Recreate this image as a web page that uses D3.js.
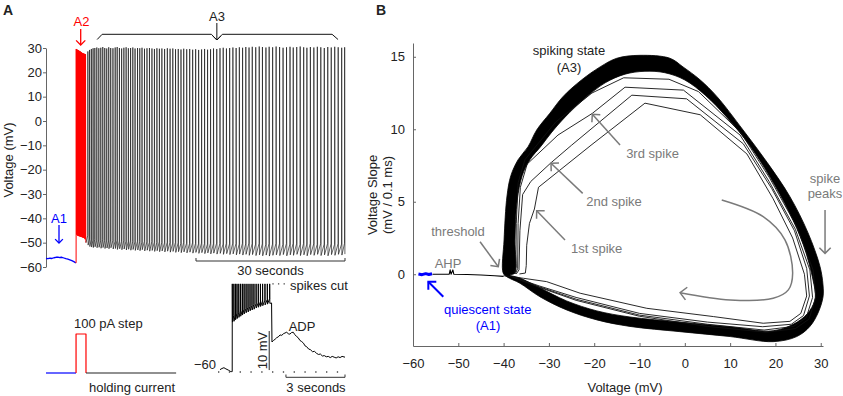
<!DOCTYPE html>
<meta charset="utf-8">
<style>
body { margin: 0; background: #fff; }
svg { font-family: "Liberation Sans", Arial, sans-serif; }
.axis path, .axis line { stroke: #666; }
.axis text { font-size: 13px; fill: #222; }
.trace { fill: none; stroke-linejoin: round; }
</style>
<body>
<script src="https://d3js.org/d3.v7.min.js"></script>
<script>

// ---------- panel A data (time in s, voltage in mV) ----------
var a1Trace = [[0,-56.5],[0.4,-56.6],[0.8,-56.4],[1.2,-56.5],[1.6,-56.2],[2.0,-56.0],[2.4,-55.9],
  [2.8,-56.1],[3.2,-56.0],[3.6,-56.3],[4.0,-56.6],[4.4,-56.8],[4.8,-57.1],[5.2,-57.4],[5.6,-57.8],[6.0,-58.3]];

// [time, pre-spike voltage, peak, trough]
var a2Spikes = [
  [6.06,-58.3,29.6,-46.5],[6.15,-45.0,29.4,-46.8],[6.24,-45.2,29.3,-47.0],[6.33,-45.3,29.2,-47.1],
  [6.42,-45.4,29.1,-47.2],[6.51,-45.5,29.0,-47.3],[6.61,-45.6,28.9,-47.3],[6.71,-45.7,28.7,-47.4],
  [6.81,-45.8,28.6,-47.5],[6.91,-45.9,28.5,-47.5],[7.01,-46.0,28.3,-47.6],[7.12,-46.1,28.2,-47.7],
  [7.23,-46.2,28.0,-47.8],[7.34,-46.3,27.9,-47.9],[7.45,-46.4,27.8,-48.0],[7.57,-46.5,27.7,-48.1],
  [7.69,-46.6,27.6,-48.3],[7.81,-46.7,27.5,-48.6],[7.93,-46.9,27.4,-49.0]
];
var a2End = [8.05, -50.0];

var a3Spikes = [
  [8.40,-47.0,28.6,-51.0],[8.75,-48.5,29.2,-51.6],[9.10,-48.8,29.6,-51.8],[9.45,-49.0,29.9,-52.0],
  [9.80,-48.7,30.0,-51.7],[10.20,-49.0,30.2,-52.1],[10.60,-48.9,29.9,-51.9],[11.00,-49.2,30.1,-52.3],
  [11.40,-48.8,30.4,-52.0],[11.80,-49.1,30.0,-52.4],[12.20,-49.0,29.8,-52.2],[12.60,-49.3,30.3,-52.5],
  [13.00,-48.9,30.0,-52.1],[13.45,-49.2,29.9,-52.6],[13.90,-49.4,30.2,-52.4],[14.30,-49.0,30.4,-52.8],
  [14.75,-49.3,30.0,-52.5],[15.20,-49.5,29.8,-52.9],[15.65,-49.2,30.1,-52.6],[16.10,-49.4,30.3,-53.0],
  [16.55,-49.6,29.9,-52.7],[17.00,-49.3,30.0,-53.1],[17.45,-49.5,30.2,-52.8],[17.90,-49.7,29.8,-53.2],
  [18.40,-49.4,30.0,-53.0],[18.85,-49.6,29.9,-53.3],[19.30,-49.8,30.1,-52.9],[19.80,-49.5,29.7,-53.4],
  [20.30,-49.7,29.9,-53.1],[20.80,-49.9,30.0,-53.5],[21.30,-49.6,29.8,-53.2],[21.80,-49.8,29.6,-53.6],
  [22.30,-50.0,29.9,-53.3],[22.80,-49.7,29.7,-53.7],[23.30,-49.9,29.8,-53.4],[23.85,-50.1,29.6,-53.8],
  [24.40,-49.8,29.9,-53.5],[24.95,-50.0,29.7,-53.9],[25.50,-50.2,29.8,-53.6],[26.05,-49.9,29.5,-54.0],
  [26.60,-50.1,29.6,-53.7],[27.15,-50.3,29.4,-54.1],[27.70,-50.0,29.7,-53.8],[28.30,-50.2,29.5,-54.2],
  [28.90,-50.4,29.6,-53.9],[29.50,-50.1,29.3,-54.3],[30.10,-50.3,29.5,-54.0],[30.70,-50.5,29.2,-54.4],
  [31.30,-50.2,29.4,-54.1],[31.90,-50.4,29.6,-54.5],[32.50,-50.6,29.3,-54.2],[33.10,-50.3,29.5,-54.6],
  [33.70,-50.5,29.8,-54.3],[34.35,-50.2,29.6,-54.7],[35.00,-50.4,29.9,-54.4],[35.65,-50.6,30.1,-54.8],
  [36.30,-50.3,29.8,-54.5],[36.95,-50.5,30.0,-54.9],[37.60,-50.2,30.2,-54.6],[38.25,-50.4,30.0,-55.0],
  [38.90,-50.6,30.3,-54.7],[39.55,-50.3,30.1,-55.1],[40.20,-50.5,30.4,-54.8],[40.85,-50.2,30.2,-55.2],
  [41.50,-50.4,30.5,-54.9],[42.20,-50.6,30.3,-55.3],[42.90,-50.3,30.6,-55.0],[43.55,-50.5,30.4,-55.4],
  [44.25,-50.7,30.2,-55.1],[44.90,-50.4,30.5,-55.5],[45.60,-50.6,30.3,-55.2],[46.30,-50.3,30.6,-55.0],
  [47.00,-50.5,30.4,-55.3],[47.70,-50.7,30.1,-54.9],[48.40,-50.4,30.3,-55.4],[49.10,-50.6,30.5,-55.0],
  [49.75,-50.3,30.2,-55.2],[50.45,-50.5,30.4,-54.8],[51.15,-50.7,30.6,-55.3],[51.85,-50.4,30.3,-55.0],
  [52.50,-50.6,30.1,-55.4],[53.20,-50.3,30.4,-54.9],[53.90,-50.5,30.2,-55.2],[54.60,-50.7,30.5,-54.8],
  [55.30,-50.4,30.3,-55.3],[56.00,-50.6,30.0,-55.0],[56.70,-50.3,30.4,-55.4],[57.40,-50.5,30.2,-54.9],
  [58.10,-50.7,30.5,-55.2],[58.80,-50.4,30.3,-54.8],[59.50,-50.6,30.1,-55.1],[60.10,-50.3,30.3,-54.7]
];

var yTicksA = [-60, -50, -40, -30, -20, -10, 0, 10, 20, 30];

// current inset (pA)
var holdingBlue = [[0,0],[6.05,0]];
var stepRed = [[6.05,0],[6.05,100],[8.05,100],[8.05,0]];
var holdingBlack = [[8.05,0],[26.2,0]];

// ADP inset (s, mV)
var adpPre = [[0,-59.4],[0.1,-59.1],[0.2,-58.9],[0.3,-59.2],[0.42,-59.5],[0.55,-59.9],[0.6,-59.9]];
var spikesCut = -37.4;
// [time, pre-spike voltage, trough]
var adpSpikes = [
  [0.62,-59.9,-47.2],[0.70,-45.5,-47.0],[0.78,-45.2,-46.6],[0.86,-44.9,-46.3],[0.95,-44.7,-46.0],
  [1.04,-44.4,-45.7],[1.13,-44.2,-45.4],[1.22,-43.9,-45.1],[1.32,-43.7,-44.8],[1.42,-43.4,-44.6],
  [1.52,-43.2,-44.3],[1.62,-43.0,-44.1],[1.72,-42.7,-43.9],[1.83,-42.5,-43.6],[1.94,-42.3,-43.4],
  [2.05,-42.0,-43.2],[2.16,-41.8,-43.0],[2.28,-41.6,-42.8],[2.40,-41.4,-42.6],[2.52,-41.2,-42.4]
];
var adpPost = [[2.62,-42.3],[2.64,-52.3],[2.72,-51.9],[2.80,-51.6],[2.88,-51.2],[2.96,-51.0],[3.05,-50.5],
  [3.14,-50.6],[3.22,-50.2],[3.30,-50.0],[3.39,-49.8],[3.47,-50.2],[3.55,-50.3],[3.63,-49.9],[3.72,-49.8],
  [3.80,-50.4],[3.89,-50.9],[3.97,-51.2],[4.06,-51.9],[4.15,-52.2],[4.24,-52.6],[4.32,-53.3],[4.40,-53.5],
  [4.50,-54.1],[4.60,-54.3],[4.70,-54.8],[4.80,-54.7],[4.90,-55.2],[5.00,-55.5],[5.10,-55.4],[5.20,-55.9],
  [5.30,-55.8],[5.40,-56.1],[5.50,-56.0],[5.60,-56.3],[5.70,-56.0],[5.80,-56.2],[5.90,-56.4],[6.00,-56.1],
  [6.10,-56.3],[6.20,-56.0],[6.35,-56.2]];

// ---------- panel B data (mV, mV / 0.1 ms) ----------
var bandOuter = [[-40.1,0.09],[-39.9,2.37],[-39.25,5.4],[-38.4,6.8],[-36.8,7.9],[-34.6,8.8],[-32.7,9.95],
  [-29.8,11.1],[-26.9,12.25],[-22.8,13.4],[-18.7,14.3],[-15.0,14.9],[-9.9,15.1],[-3.3,14.9],[-0.4,14.3],
  [3.4,13.4],[7.1,12.25],[12.85,9.95],[18.2,7.7],[23.2,5.35],[27.2,2.85],[29.85,0.52],[30.5,-0.74],
  [30.5,-1.57],[29.4,-2.67],[27.6,-3.6],[24.7,-4.3],[19.5,-4.65],[10.0,-4.3],[-1.1,-3.96],[-12.1,-3.6],
  [-19.4,-3.15],[-26.1,-2.46],[-32.0,-1.55],[-36.4,-0.62],[-39.3,-0.17]];
var bandInner = [[-37.5,0.09],[-37.5,2.37],[-37.0,5.1],[-35.9,6.8],[-34.2,7.9],[-31.7,8.85],[-29.5,9.75],
  [-26.4,10.85],[-22.0,12.15],[-17.6,13.2],[-13.2,13.8],[-8.8,14.0],[-4.4,13.9],[0.0,13.4],[4.5,12.35],
  [9.2,10.85],[14.4,8.85],[18.9,6.65],[23.0,4.3],[26.2,2.0],[28.3,-0.4],[28.8,-1.6],[27.6,-2.5],
  [24.8,-3.3],[19.5,-3.9],[10.0,-3.63],[-1.1,-3.3],[-12.1,-2.95],[-19.4,-2.53],[-26.1,-1.84],
  [-32.0,-0.94],[-36.4,-0.26],[-38.6,-0.05]];

var spike1 = [[-36.5,0.02],[-35.2,0.08],[-35.0,0.6],[-34.9,2.0],[-34.3,3.5],[-33.2,4.5],[-32.3,6.0],
  [-20.7,8.9],[-8.8,11.8],[3.4,11.0],[13.7,8.3],[19.5,5.2],[23.8,2.5],[26.4,0.0],[26.9,-1.5],[25.6,-2.7],
  [23.2,-3.25],[17.3,-3.38],[6.3,-2.92],[-8.4,-2.35],[-23.1,-1.31],[-30.5,-0.51],[-35.6,-0.28],[-40.0,-0.1]];
var spike2 = [[-37.2,0.02],[-36.6,0.3],[-36.4,3.0],[-35.8,5.5],[-34.0,6.4],[-29.5,7.7],[-25.0,8.9],
  [-11.7,12.35],[0.4,12.1],[12.9,9.0],[19.2,5.9],[24.2,3.0],[26.9,0.4],[27.5,-1.5],[26.2,-2.85],
  [23.5,-3.45],[17.2,-3.62],[5.0,-3.3],[-10.0,-2.7],[-24.0,-1.6],[-32.0,-0.82],[-38.0,-0.18]];
var spike3 = [[-37.4,0.02],[-36.9,0.4],[-36.8,3.5],[-36.3,6.0],[-34.8,7.6],[-28.0,9.6],[-20.4,11.1],
  [-13.2,12.9],[-0.3,12.7],[12.2,9.6],[18.6,6.4],[24.4,3.1],[27.6,0.3],[28.2,-1.6],[26.8,-3.0],
  [24.0,-3.6],[17.5,-3.85],[5.0,-3.45],[-10.0,-2.82],[-24.0,-1.72],[-32.0,-0.88],[-38.0,-0.2]];
var spike4 = [[-37.6,0.02],[-37.3,0.5],[-37.2,3.5],[-36.8,6.3],[-35.3,7.9],[-28.5,10.5],[-20.5,12.5],
  [-13.5,13.55],[-3.5,13.45],[3.0,12.6],[12.3,9.8],[18.6,6.7],[24.7,3.3],[28.3,0.3],[28.9,-1.6],
  [27.4,-3.1],[24.4,-3.75],[18.0,-4.0],[5.0,-3.6],[-10.0,-2.9],[-24.0,-1.8],[-32.0,-0.92],[-38.0,-0.2]];

var baseline = [[-55.7,0.0],[-53,0.0],[-52.0,0.0],[-51.8,0.3],[-51.6,0.0],[-51.2,0.3],[-51.0,0.0],
  [-48,-0.02],[-45,-0.05],[-42,-0.1],[-40,-0.15]];
var quiescent = [[-58.8,0.02],[-58.0,-0.03],[-57.2,0.04],[-56.5,-0.02],[-55.8,0.03]];
var cycleArrow = [[8.15,5.12],[17.3,3.97],[22.1,2.37],[23.8,0.07],[22.85,-1.08],[19.5,-1.66],[10.0,-1.77],[-1.05,-1.27]];

var xTicksB = [-60, -50, -40, -30, -20, -10, 0, 10, 20, 30];
var yTicksB = [0, 5, 10, 15];

// ---------- setup ----------
var width = 843, height = 396;
var blue = "#0000ff", red = "#ff0000", gray = "#7a7a7a";

var svg = d3.select("body").append("svg")
    .attr("width", width)
    .attr("height", height);

function spikeTrain(start, rows, end) {
  var pts = [start];
  rows.forEach(function(r) {
    pts.push([r[0], r[1]], [r[0] + 0.03, r[2]], [r[0] + 0.08, r[3]]);
  });
  if (end) pts.push(end);
  return pts;
}

function text(x, y, s, opts) {
  opts = opts || {};
  return svg.append("text")
      .attr("x", x).attr("y", y).attr("dy", "0.35em")
      .attr("text-anchor", opts.anchor || "middle")
      .attr("font-size", opts.size || 13)
      .attr("font-weight", opts.weight || null)
      .attr("fill", opts.color || "#222")
      .text(s);
}

function arrow(pts, color, w, head) {
  svg.append("path")
      .attr("d", d3.line()(pts))
      .attr("fill", "none").attr("stroke", color).attr("stroke-width", w);
  var p1 = pts[pts.length - 1], p0 = pts[pts.length - 2];
  var a = Math.atan2(p1[1] - p0[1], p1[0] - p0[0]) + Math.PI;
  var wings = [a - Math.PI / 4, a + Math.PI / 4].map(function(b) {
    return [p1[0] + head * Math.cos(b), p1[1] + head * Math.sin(b)];
  });
  svg.append("path")
      .attr("d", d3.line()([wings[0], p1, wings[1]]))
      .attr("fill", "none").attr("stroke", color).attr("stroke-width", w);
}

// ---------- panel A ----------
var xA = d3.scaleLinear().domain([0, 60.2]).range([46, 345]);
var yA = d3.scaleLinear().domain([-60, 30]).range([267, 48]);
var lineA = d3.line().x(d => xA(d[0])).y(d => yA(d[1]));

text(3, 10, "A", {anchor: "start", weight: "bold", size: 14});

svg.append("g")
    .attr("class", "axis")
    .attr("transform", "translate(46,0)")
    .call(d3.axisLeft(yA).tickValues(yTicksA).tickSizeInner(3).tickSizeOuter(0).tickPadding(1));

svg.append("text")
    .attr("transform", "translate(13,160) rotate(-90)")
    .attr("text-anchor", "middle").attr("font-size", 13).attr("fill", "#222")
    .text("Voltage (mV)");

svg.append("path").attr("class", "trace")
    .attr("d", lineA(a1Trace)).attr("stroke", blue).attr("stroke-width", 1.3);
svg.append("path").attr("class", "trace")
    .attr("d", lineA(spikeTrain(a1Trace[a1Trace.length - 1], a2Spikes, a2End)))
    .attr("stroke", red).attr("stroke-width", 1);
svg.append("path").attr("class", "trace")
    .attr("d", lineA(spikeTrain(a2End, a3Spikes)))
    .attr("stroke", "#111").attr("stroke-width", 0.65);

// labels A1, A2, A3
text(59, 218.5, "A1", {color: blue});
arrow([[59, 225], [59, 243]], blue, 1.3, 5.5);
text(81.5, 21, "A2", {color: red});
arrow([[80.7, 29], [80.7, 45]], red, 1.3, 6.5);
text(217, 16.5, "A3");
svg.append("path")
    .attr("d", d3.line()([[xA(10.3), 39.5], [xA(11.3), 34.3], [xA(33.3), 34.3], [xA(34.4), 40],
                          [xA(35.5), 34.3], [xA(57.6), 34.3], [xA(58.8), 39.5]]))
    .attr("fill", "none").attr("stroke", "#111").attr("stroke-width", 1);
arrow([[xA(34.4), 23], [xA(34.4), 40]], "#111", 1, 5.5);

// 30 seconds bar
svg.append("path")
    .attr("d", d3.line()([[xA(30.2), 258], [xA(30.2), 261], [xA(60.2), 261], [xA(60.2), 258]]))
    .attr("fill", "none").attr("stroke", "#333").attr("stroke-width", 1);
text(xA(45.2), 270, "30 seconds");

// current inset
var yCur = d3.scaleLinear().domain([0, 100]).range([373, 334]);
var lineCur = d3.line().x(d => xA(d[0])).y(d => yCur(d[1]));
svg.append("path").attr("class", "trace").attr("d", lineCur(holdingBlue)).attr("stroke", blue).attr("stroke-width", 1.2);
svg.append("path").attr("class", "trace").attr("d", lineCur(stepRed)).attr("stroke", red).attr("stroke-width", 1.2);
svg.append("path").attr("class", "trace").attr("d", lineCur(holdingBlack)).attr("stroke", "#222").attr("stroke-width", 1.2);
text(74, 323, "100 pA step", {anchor: "start"});
text(89, 387, "holding current", {anchor: "start"});

// ADP inset
var xI = d3.scaleLinear().domain([0, 6.35]).range([220, 345]);
var yI = d3.scaleLinear().domain([-60, -35]).range([372, 274.5]);
var lineI = d3.line().x(d => xI(d[0])).y(d => yI(d[1]));
var adpTrain = adpPre.slice();
adpSpikes.forEach(function(r) {
  adpTrain.push([r[0], r[1]], [r[0] + 0.004, spikesCut], [r[0] + 0.012, r[2]]);
});
adpTrain = adpTrain.concat(adpPost);
svg.append("path").attr("class", "trace")
    .attr("d", lineI(adpTrain)).attr("stroke", "#000").attr("stroke-width", 1);
svg.append("line")
    .attr("x1", xI(-0.1)).attr("x2", xI(6.1)).attr("y1", yI(-60)).attr("y2", yI(-60))
    .attr("stroke", "#444").attr("stroke-width", 1.3).attr("stroke-dasharray", "1.3,9.5");
svg.append("line")
    .attr("x1", xI(2.66)).attr("x2", xI(3.5)).attr("y1", yI(spikesCut)).attr("y2", yI(spikesCut))
    .attr("stroke", "#444").attr("stroke-width", 1.3).attr("stroke-dasharray", "1.3,4.3");
text(216, 364, "\u221260", {anchor: "end"});
text(290, 285, "spikes cut", {anchor: "start"});
text(302, 326, "ADP");
svg.append("line")
    .attr("x1", xI(2.5)).attr("x2", xI(2.5)).attr("y1", yI(-59.5)).attr("y2", yI(-49.5))
    .attr("stroke", "#222").attr("stroke-width", 1);
svg.append("text")
    .attr("transform", "translate(266.5,350.5) rotate(-90)")
    .attr("text-anchor", "middle").attr("font-size", 13).attr("fill", "#222")
    .text("10 mV");
svg.append("path")
    .attr("d", d3.line()([[xI(3.35), 374.5], [xI(3.35), 377.3], [xI(6.35), 377.3], [xI(6.35), 374.5]]))
    .attr("fill", "none").attr("stroke", "#333").attr("stroke-width", 1);
text(316, 387.5, "3 seconds");

// ---------- panel B ----------
var xB = d3.scaleLinear().domain([-60, 30.5]).range([413, 823]);
var yB = d3.scaleLinear().domain([-4.95, 15.95]).range([346, 43]);
var lineB = d3.line().x(d => xB(d[0])).y(d => yB(d[1]));

text(376, 10, "B", {anchor: "start", weight: "bold", size: 14});

svg.append("g")
    .attr("class", "axis")
    .attr("transform", "translate(0,346)")
    .call(d3.axisBottom(xB).tickValues(xTicksB).tickSizeInner(-3).tickSizeOuter(0).tickPadding(13));
svg.append("g")
    .attr("class", "axis")
    .attr("transform", "translate(413,0)")
    .call(d3.axisLeft(yB).tickValues(yTicksB).tickSizeInner(-3).tickSizeOuter(0).tickPadding(8));

text(625, 387, "Voltage (mV)");
svg.append("text")
    .attr("transform", "translate(377,195) rotate(-90)")
    .attr("text-anchor", "middle").attr("font-size", 13).attr("fill", "#222")
    .text("Voltage Slope");
svg.append("text")
    .attr("transform", "translate(392,195) rotate(-90)")
    .attr("text-anchor", "middle").attr("font-size", 13).attr("fill", "#222")
    .text("(mV / 0.1 ms)");

// dense band of repeated spikes
var loop = d3.line().x(d => xB(d[0])).y(d => yB(d[1])).curve(d3.curveCatmullRomClosed.alpha(0.5));
svg.append("path")
    .attr("d", loop(bandOuter) + loop(bandInner))
    .attr("fill", "#000").attr("fill-rule", "evenodd")
    .attr("stroke", "#000").attr("stroke-width", 0.8);

[spike1, spike2, spike3, spike4].forEach(function(s) {
  svg.append("path").attr("class", "trace")
      .attr("d", lineB(s)).attr("stroke", "#111").attr("stroke-width", 0.9);
});
svg.append("path").attr("class", "trace")
    .attr("d", lineB(baseline)).attr("stroke", "#000").attr("stroke-width", 1.1);
svg.append("path").attr("class", "trace")
    .attr("d", lineB(quiescent)).attr("stroke", blue).attr("stroke-width", 3);

// annotations
function arrowB(pts, color, w, head) {
  arrow(pts.map(d => [xB(d[0]), yB(d[1])]), color, w, head);
}
arrowB([[-45.2, 2.24], [-41.17, 0.52]], gray, 1.5, 8);
arrowB([[-26.45, 2.36], [-32.7, 4.38]], gray, 1.5, 8);
arrowB([[-22.54, 5.58], [-29.54, 7.65]], gray, 1.5, 8);
arrowB([[-14.3, 8.91], [-20.42, 11.03]], gray, 1.5, 8);
arrowB([[30.95, 4.43], [30.95, 1.44]], gray, 1.5, 8);
arrowB([[-53.31, -1.55], [-56.62, -0.52]], blue, 2, 8);

var cyc = d3.line().x(d => xB(d[0])).y(d => yB(d[1])).curve(d3.curveCatmullRom.alpha(0.5));
svg.append("path")
    .attr("d", cyc(cycleArrow))
    .attr("fill", "none").attr("stroke", gray).attr("stroke-width", 1.5);
(function() {
  var p1 = [xB(cycleArrow[7][0]), yB(cycleArrow[7][1])];
  var a = Math.atan2(yB(cycleArrow[6][1]) - p1[1], xB(cycleArrow[6][0]) - p1[0]);
  var w = [a - Math.PI / 4, a + Math.PI / 4].map(b => [p1[0] + 9 * Math.cos(b), p1[1] + 9 * Math.sin(b)]);
  svg.append("path").attr("d", d3.line()([w[0], p1, w[1]]))
      .attr("fill", "none").attr("stroke", gray).attr("stroke-width", 1.5);
})();

text(569, 50.5, "spiking state");
text(569, 67, "(A3)");
text(652.5, 153.3, "3rd spike", {color: gray});
text(614, 201.7, "2nd spike", {color: gray});
text(596.7, 248.3, "1st spike", {color: gray});
text(458, 231.7, "threshold", {color: gray});
text(448, 263, "AHP", {color: gray});
text(825, 178.3, "spike", {color: gray});
text(825, 193.3, "peaks", {color: gray});
text(487.7, 309.3, "quiescent state", {color: blue});
text(488, 325.7, "(A1)", {color: blue});

</script>
